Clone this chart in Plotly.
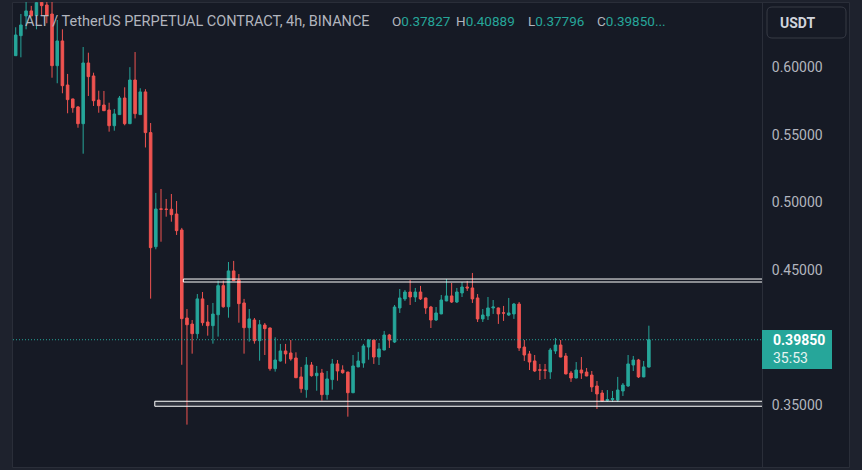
import plotly.graph_objects as go

# ---------------- data ----------------
opens = [0.6086, 0.6234, 0.6380, 0.6417, 0.6382, 0.6480, 0.6461, 0.6394, 0.6012, 0.6195,
         0.5869, 0.5766, 0.5707, 0.5583, 0.6032, 0.5936, 0.5758, 0.5721, 0.5684, 0.5568,
         0.5650, 0.5773, 0.5583, 0.5906, 0.5650, 0.5818, 0.5517, 0.4673, 0.4953, 0.4951,
         0.4950, 0.4915, 0.4797, 0.4146, 0.4101, 0.4030, 0.4287, 0.4116, 0.4089, 0.4170,
         0.4385, 0.4229, 0.4494, 0.4427, 0.4257, 0.4074, 0.4131, 0.3978, 0.4094, 0.4072,
         0.3771, 0.3828, 0.3902, 0.3887, 0.3850, 0.3710, 0.3616, 0.3798, 0.3719, 0.3739,
         0.3579, 0.3690, 0.3806, 0.3761, 0.3746, 0.3593, 0.3784, 0.3813, 0.3931, 0.3983,
         0.3857, 0.3909, 0.4020, 0.3968, 0.4220, 0.4287, 0.4338, 0.4301, 0.4338, 0.4294,
         0.4227, 0.4131, 0.4176, 0.4272, 0.4309, 0.4264, 0.4331, 0.4375, 0.4368, 0.4294,
         0.4139, 0.4161, 0.4220, 0.4220, 0.4184, 0.4168, 0.4176, 0.4249, 0.3931, 0.3880,
         0.3828, 0.3763, 0.3762, 0.3747, 0.3902, 0.3946, 0.3865, 0.3739, 0.3702, 0.3761,
         0.3746, 0.3724, 0.3643, 0.3591, 0.3536, 0.3543, 0.3539, 0.3606, 0.3643, 0.3798,
         0.3835, 0.3710, 0.37827]
highs = [0.6296, 0.6394, 0.6500, 0.6454, 0.6520, 0.6520, 0.6520, 0.6500, 0.6350, 0.6281,
         0.5951, 0.5768, 0.5714, 0.6150, 0.6108, 0.5960, 0.5827, 0.5825, 0.5738, 0.5692,
         0.5788, 0.5852, 0.6001, 0.6113, 0.5845, 0.5838, 0.5588, 0.5071, 0.5100, 0.5026,
         0.5063, 0.5011, 0.4812, 0.4212, 0.4131, 0.4323, 0.4338, 0.4242, 0.4257, 0.4422,
         0.4422, 0.4560, 0.4568, 0.4471, 0.4287, 0.4212, 0.4146, 0.4131, 0.4109, 0.4075,
         0.4003, 0.3954, 0.3954, 0.3983, 0.3892, 0.3784, 0.3857, 0.3820, 0.3791, 0.3769,
         0.3754, 0.3843, 0.3835, 0.3796, 0.3748, 0.3872, 0.3895, 0.3954, 0.3990, 0.3985,
         0.3961, 0.4050, 0.4028, 0.4242, 0.4360, 0.4353, 0.4427, 0.4368, 0.4383, 0.4296,
         0.4235, 0.4227, 0.4316, 0.4434, 0.4405, 0.4368, 0.4412, 0.4420, 0.4479, 0.4323,
         0.4212, 0.4301, 0.4279, 0.4223, 0.4235, 0.4294, 0.4257, 0.4264, 0.3983, 0.3902,
         0.3872, 0.3806, 0.3806, 0.3924, 0.3998, 0.3983, 0.3887, 0.3754, 0.3820, 0.3857,
         0.3776, 0.3754, 0.3680, 0.3613, 0.3613, 0.3606, 0.3710, 0.3665, 0.3872, 0.3865,
         0.3843, 0.3828, 0.40889]
lows = [0.6084, 0.6074, 0.6281, 0.6378, 0.6281, 0.6387, 0.6326, 0.5923, 0.5882, 0.5808,
        0.5660, 0.5664, 0.5553, 0.5361, 0.5788, 0.5714, 0.5664, 0.5677, 0.5524, 0.5531,
        0.5648, 0.5571, 0.5580, 0.5622, 0.5648, 0.5407, 0.4289, 0.4654, 0.4710, 0.4895,
        0.4858, 0.4760, 0.3800, 0.3357, 0.3882, 0.3993, 0.4089, 0.4015, 0.3956, 0.4008,
        0.4222, 0.4148, 0.4420, 0.4111, 0.3882, 0.3971, 0.3956, 0.3830, 0.3872, 0.3756,
        0.3749, 0.3823, 0.3808, 0.3830, 0.3702, 0.3593, 0.3556, 0.3712, 0.3608, 0.3534,
        0.3542, 0.3616, 0.3682, 0.3734, 0.3416, 0.3590, 0.3782, 0.3778, 0.3837, 0.3806,
        0.3798, 0.3907, 0.3924, 0.3961, 0.4183, 0.4272, 0.4242, 0.4264, 0.4279, 0.4176,
        0.4072, 0.4124, 0.4174, 0.4270, 0.4257, 0.4257, 0.4301, 0.4346, 0.4257, 0.4116,
        0.4116, 0.4131, 0.4176, 0.4102, 0.4124, 0.4161, 0.4139, 0.3902, 0.3828, 0.3761,
        0.3747, 0.3687, 0.3695, 0.3695, 0.3880, 0.3855, 0.3730, 0.3673, 0.3700, 0.3695,
        0.3715, 0.3599, 0.3473, 0.3525, 0.3525, 0.3525, 0.3525, 0.3569, 0.3636, 0.3754,
        0.3702, 0.3708, 0.37796]
closes = [0.6239, 0.6313, 0.6417, 0.6380, 0.6478, 0.6456, 0.6387, 0.6012, 0.6195, 0.5864,
          0.5761, 0.5701, 0.5583, 0.6032, 0.5931, 0.5753, 0.5716, 0.5679, 0.5568, 0.5655,
          0.5773, 0.5583, 0.5906, 0.5657, 0.5818, 0.5517, 0.4666, 0.4952, 0.4950, 0.4949,
          0.4910, 0.4792, 0.4141, 0.4096, 0.4030, 0.4287, 0.4111, 0.4089, 0.4175, 0.4385,
          0.4229, 0.4494, 0.4422, 0.4252, 0.4074, 0.4139, 0.3978, 0.4096, 0.4067, 0.3771,
          0.3835, 0.3902, 0.3880, 0.3843, 0.3704, 0.3623, 0.3798, 0.3719, 0.3737, 0.3579,
          0.3695, 0.3806, 0.3754, 0.3741, 0.3593, 0.3791, 0.3828, 0.3939, 0.3983, 0.3857,
          0.3917, 0.4020, 0.3983, 0.4227, 0.4294, 0.4338, 0.4301, 0.4338, 0.4287, 0.4220,
          0.4131, 0.4183, 0.4279, 0.4309, 0.4264, 0.4338, 0.4375, 0.4368, 0.4287, 0.4139,
          0.4168, 0.4220, 0.4227, 0.4176, 0.4182, 0.4183, 0.4249, 0.3924, 0.3872, 0.3820,
          0.3754, 0.3760, 0.3759, 0.3909, 0.3946, 0.3857, 0.3732, 0.3702, 0.3761, 0.3739,
          0.3717, 0.3636, 0.3584, 0.3532, 0.3543, 0.3550, 0.3613, 0.3650, 0.3806, 0.3835,
          0.3710, 0.3784, 0.39850]
candle_index = list(range(len(opens)))

price_ticks = [0.35, 0.45, 0.50, 0.55, 0.60]
last_price = 0.39850
countdown = "35:53"
title_text = "ALT / TetherUS PERPETUAL CONTRACT, 4h, BINANCE"
ohlc_labels = ["O", "H", "L", "C"]
ohlc_values = ["0.37827", "0.40889", "0.37796", "0.39850..."]
currency = "USDT"

# horizontal zones drawn on the chart (price bands, start candle)
resistance_band = (0.4412, 0.4434, 32.3)
support_band = (0.3493, 0.3530, 26.8)

# ---------------- style ----------------
UP = "#26a69a"
DOWN = "#ef5350"
BG = "#161a25"
FRAME = "#1e222d"
BORDER = "#2a2e39"
TXT = "#b2b5be"
FONT = "Roboto, 'Noto Sans', sans-serif"

fig = go.Figure()
fig.add_trace(go.Candlestick(
    x=candle_index, open=opens, high=highs, low=lows, close=closes,
    increasing=dict(line=dict(color=UP, width=1), fillcolor=UP),
    decreasing=dict(line=dict(color=DOWN, width=1), fillcolor=DOWN),
    whiskerwidth=0, hoverinfo="skip", showlegend=False,
))

W, H = 862, 470
L, R, T, B = 13, 100, 2, 3
pw, ph = W - L - R, H - T - B


def px(x):
    return (x - L) / pw


def py(y):
    return (H - B - y) / ph


shapes = []
# chart panel background + border (includes price axis panel)
shapes.append(dict(type="rect", xref="paper", yref="paper",
                   x0=px(12.5), x1=px(849.5), y0=py(467.5), y1=py(2.5),
                   fillcolor=BG, line=dict(color=BORDER, width=1), layer="below"))
# resistance / support bands
shapes.append(dict(type="rect", xref="x", yref="y",
                   x0=resistance_band[2], x1=200, y0=resistance_band[0], y1=resistance_band[1],
                   fillcolor="rgba(0,0,0,0)", line=dict(color="#ffffff", width=1)))
shapes.append(dict(type="rect", xref="x", yref="y",
                   x0=support_band[2], x1=200, y0=support_band[0], y1=support_band[1],
                   fillcolor="rgba(120,123,134,0.25)", line=dict(color="#ffffff", width=1)))
# last price dotted line
shapes.append(dict(type="line", xref="paper", yref="y", x0=0, x1=1,
                   y0=last_price, y1=last_price,
                   line=dict(color=UP, width=1, dash="1px,2px")))
# last price label box
shapes.append(dict(type="rect", xref="paper", yref="paper",
                   x0=px(762), x1=px(832), y0=py(369), y1=py(330),
                   fillcolor=UP, line=dict(width=0)))
# currency box (rounded)
x0, x1, y0, y1 = px(767), px(846), py(38), py(7)
rx, ry = 5 / pw, 5 / ph
path = (f"M {x0+rx},{y1} L {x1-rx},{y1} Q {x1},{y1} {x1},{y1-ry} "
        f"L {x1},{y0+ry} Q {x1},{y0} {x1-rx},{y0} L {x0+rx},{y0} "
        f"Q {x0},{y0} {x0},{y0+ry} L {x0},{y1-ry} Q {x0},{y1} {x0+rx},{y1} Z")
shapes.append(dict(type="path", xref="paper", yref="paper", path=path,
                   fillcolor=BG, line=dict(color="#363a45", width=1)))

annotations = []
annotations.append(dict(xref="paper", yref="paper", x=px(23), y=py(21),
                        xanchor="left", yanchor="middle", showarrow=False,
                        text=title_text, font=dict(color=TXT, size=14.5, family=FONT)))
ohlc_x = [390, 454, 526, 595]
for lab, val, xx in zip(ohlc_labels, ohlc_values, ohlc_x):
    annotations.append(dict(xref="paper", yref="paper", x=px(xx), y=py(21),
                            xanchor="left", yanchor="middle", showarrow=False,
                            text=f"{lab}<span style='color:{UP}'>{val}</span>",
                            font=dict(color=TXT, size=13.5, family=FONT)))
annotations.append(dict(xref="paper", yref="paper", x=px(778), y=py(23),
                        xanchor="left", yanchor="middle", showarrow=False,
                        text=f"<b>{currency}</b>", font=dict(color="#d1d4dc", size=14, family=FONT)))
annotations.append(dict(xref="paper", yref="paper", x=px(771), y=py(340),
                        xanchor="left", yanchor="middle", showarrow=False,
                        text=f"<b>{last_price:.5f}</b>", font=dict(color="#ffffff", size=14, family=FONT)))
annotations.append(dict(xref="paper", yref="paper", x=px(771), y=py(358),
                        xanchor="left", yanchor="middle", showarrow=False,
                        text=countdown, font=dict(color="#e6f4f2", size=14, family=FONT)))

fig.update_layout(
    width=W, height=H,
    margin=dict(l=L, r=R, t=T, b=B),
    paper_bgcolor=FRAME, plot_bgcolor=BG,
    shapes=shapes, annotations=annotations,
    showlegend=False, hovermode=False,
    xaxis=dict(range=[-0.52, 143.8], visible=False, rangeslider=dict(visible=False),
               fixedrange=True),
    yaxis=dict(range=[0.30437, 0.6483], side="right", showgrid=False, zeroline=False,
               tickvals=price_ticks, ticktext=[f"{v:.5f}" for v in price_ticks],
               tickfont=dict(color=TXT, size=14, family=FONT),
               ticks="", ticklabelstandoff=6,
               showline=True, linecolor=BORDER, linewidth=1, fixedrange=True),
)

fig.write_html("out.html", config={"displayModeBar": False, "staticPlot": True})
